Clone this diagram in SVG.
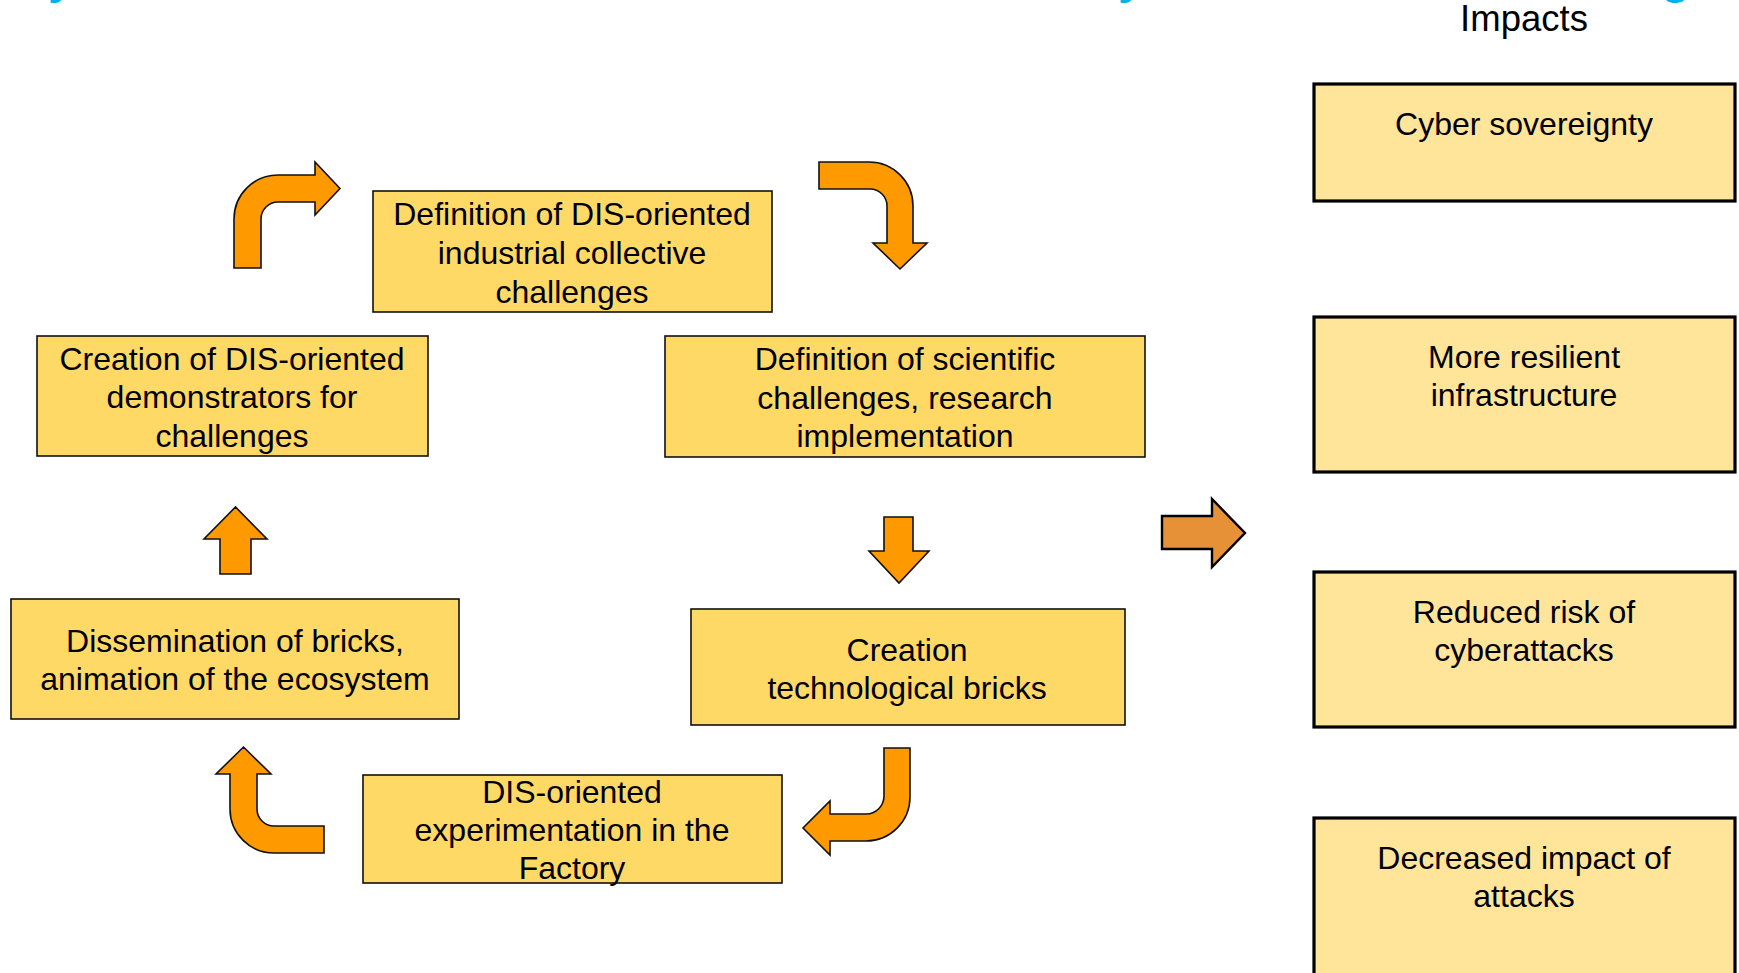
<svg xmlns="http://www.w3.org/2000/svg" width="1739" height="973" viewBox="0 0 1739 973">
<defs>
<style>
.box{fill:#FFD966;stroke:#111;stroke-width:1.6}
.imp{fill:#FFE599;stroke:#000;stroke-width:3.2}
.arr{fill:#FF9900;stroke:#111;stroke-width:1.6;stroke-linejoin:miter}
.arr2{fill:#E69138;stroke:#000;stroke-width:2.4}
text{font-family:"Liberation Sans",Arial,sans-serif;font-size:32px;fill:#000;text-anchor:middle}
.ttl{fill:#00B0F0;font-weight:bold;font-size:48px;text-anchor:start}
</style>
</defs>
<rect width="1739" height="973" fill="#fff"/>
<g id="title-fragments">
<text class="ttl" x="48" y="-7">y</text>
<text class="ttl" x="1118" y="-7">y</text>
<text class="ttl" x="1661" y="-7">g</text>
</g>
<g id="connectors">
<path class="arr" d="M234,268 L234,219 A44,44 0 0 1 278,175 L315,175 L315,162 L340,188.5 L315,215 L315,202 L278,202 A17,17 0 0 0 261,219 L261,268 Z"/>
<path class="arr" d="M819,162 L869,162 A44,44 0 0 1 913,206 L913,243 L927,243 L900,269 L873,243 L887,243 L887,206 A17,17 0 0 0 870,189 L819,189 Z"/>
<path class="arr" d="M884,517 L913,517 L913,551 L929,551 L899,583 L869,551 L884,551 Z"/>
<path class="arr" d="M884,748 L910,748 L910,797 A44,44 0 0 1 866,841 L830,841 L830,855 L803,828 L830,801 L830,814 L866,814 A18,18 0 0 0 884,796 Z"/>
<path class="arr" d="M324,826 L274,826 A17,17 0 0 1 257,809 L257,774 L271,774 L243.5,747 L216,774 L230,774 L230,809 A44,44 0 0 0 274,853 L324,853 Z"/>
<path class="arr" d="M220,574 L251,574 L251,539 L267,539 L235.5,507 L204,539 L220,539 Z"/>
<path class="arr2" d="M1162,516 L1212,516 L1212,499 L1245,533 L1212,567 L1212,549 L1162,549 Z"/>
</g>
<g id="n1">
<rect class="box" x="373" y="191" width="399" height="121"/>
<text x="572" y="225">Definition of DIS-oriented</text>
<text x="572" y="264">industrial collective</text>
<text x="572" y="303">challenges</text>
</g>
<g id="n2">
<rect class="box" x="665" y="336" width="480" height="121"/>
<text x="905" y="370">Definition of scientific</text>
<text x="905" y="409">challenges, research</text>
<text x="905" y="447">implementation</text>
</g>
<g id="n3">
<rect class="box" x="37" y="336" width="391" height="120"/>
<text x="232" y="370">Creation of DIS-oriented</text>
<text x="232" y="408">demonstrators for</text>
<text x="232" y="447">challenges</text>
</g>
<g id="n4">
<rect class="box" x="11" y="599" width="448" height="120"/>
<text x="235" y="652">Dissemination of bricks,</text>
<text x="235" y="690">animation of the ecosystem</text>
</g>
<g id="n5">
<rect class="box" x="691" y="609" width="434" height="116"/>
<text x="907" y="661">Creation</text>
<text x="907" y="699">technological bricks</text>
</g>
<g id="n6">
<rect class="box" x="363" y="775" width="419" height="108"/>
<text x="572" y="803">DIS-oriented</text>
<text x="572" y="841">experimentation in the</text>
<text x="572" y="879">Factory</text>
</g>
<g id="impacts-title">
<text x="1524" y="31" style="font-size:36.5px">Impacts</text>
</g>
<g id="i1">
<rect class="imp" x="1314" y="84" width="421" height="117"/>
<text x="1524" y="135">Cyber sovereignty</text>
</g>
<g id="i2">
<rect class="imp" x="1314" y="317" width="421" height="155"/>
<text x="1524" y="368">More resilient</text>
<text x="1524" y="406">infrastructure</text>
</g>
<g id="i3">
<rect class="imp" x="1314" y="572" width="421" height="155"/>
<text x="1524" y="623">Reduced risk of</text>
<text x="1524" y="661">cyberattacks</text>
</g>
<g id="i4">
<rect class="imp" x="1314" y="818" width="421" height="170"/>
<text x="1524" y="869">Decreased impact of</text>
<text x="1524" y="907">attacks</text>
</g>
</svg>
